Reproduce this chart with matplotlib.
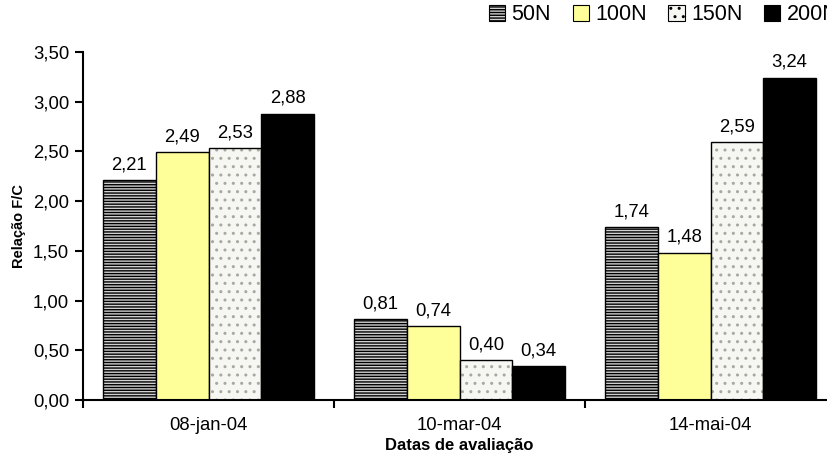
#Bar chart of F/C ratio per evaluation date and N dose
import matplotlib
matplotlib.use("Agg")
import matplotlib.pyplot as plt
from matplotlib.patches import Patch
import numpy as np

datas = ["08-jan-04", "10-mar-04", "14-mai-04"]
doses = ["50N", "100N", "150N", "200N"]
valores = [
    [2.21, 0.81, 1.74],   # 50N
    [2.49, 0.74, 1.48],   # 100N
    [2.53, 0.40, 2.59],   # 150N
    [2.88, 0.34, 3.24],   # 200N
]
yticks = [0.0, 0.5, 1.0, 1.5, 2.0, 2.5, 3.0, 3.5]

# face, hatch, hatch colour
estilos = [
    ("#d0d0d0", "------", "#000000"),
    ("#ffff99", "", "#000000"),
    ("#f6f6f2", "..", "#a8a8a0"),
    ("#000000", "", "#000000"),
]

plt.rcParams["font.family"] = ["Liberation Sans", "DejaVu Sans"]
plt.rcParams["hatch.linewidth"] = 1.0

fig = plt.figure(figsize=(8.27, 4.57), dpi=100)
ax = fig.add_axes([83 / 827, 1 - 400 / 457, 753 / 827, 348 / 457])

x = np.arange(len(datas))
largura = 0.21
for j, dose in enumerate(doses):
    pos = x - 2 * largura + largura * (j + 0.5)
    face, hatch, hcor = estilos[j]
    # fill + hatch first, outline on top
    ax.bar(pos, valores[j], largura, color=face, hatch=hatch,
           edgecolor=hcor, linewidth=0)
    ax.bar(pos, valores[j], largura, fill=False, edgecolor="black",
           linewidth=1.0)
    for xi, v in zip(pos, valores[j]):
        ax.annotate(("%.2f" % v).replace(".", ","), (xi, v),
                    xytext=(0, 5), textcoords="offset points",
                    ha="center", va="bottom", fontsize=13.3)

ax.set_xlim(-0.5, 2.5)
ax.set_ylim(0, 3.5)
ax.set_yticks(yticks)
ax.set_yticklabels([("%.2f" % t).replace(".", ",") for t in yticks],
                   fontsize=13.3)
ax.set_xticks(x)
ax.set_xticklabels(datas, fontsize=13.3)
ax.tick_params(axis="x", which="major", length=0, pad=12)
ax.set_xticks([-0.5, 0.5, 1.5, 2.5], minor=True)
ax.tick_params(axis="x", which="minor", length=6, width=1.5, direction="out")
ax.tick_params(axis="y", length=6, width=1.5, direction="out", pad=4)

for s in ["top", "right"]:
    ax.spines[s].set_visible(False)
ax.spines["left"].set_linewidth(1.5)
ax.spines["bottom"].set_linewidth(1.5)

ax.set_xlabel("Datas de avaliação", fontsize=12, fontweight="bold", labelpad=3)
ax.set_ylabel("Relação F/C", fontsize=10.5, fontweight="bold", labelpad=5)

handles = [Patch(facecolor=estilos[j][0], hatch=estilos[j][1],
                 edgecolor="black", linewidth=0.8) for j in range(len(doses))]
fig.legend(handles, doses, loc="center left", bbox_to_anchor=(489 / 827, 1 - 15 / 457),
           ncol=4, frameon=False, fontsize=15.5, handlelength=0.75,
           handleheight=0.75, handletextpad=0.3, columnspacing=1.0,
           borderpad=0, borderaxespad=0)

fig.savefig("out.png", dpi=100)
